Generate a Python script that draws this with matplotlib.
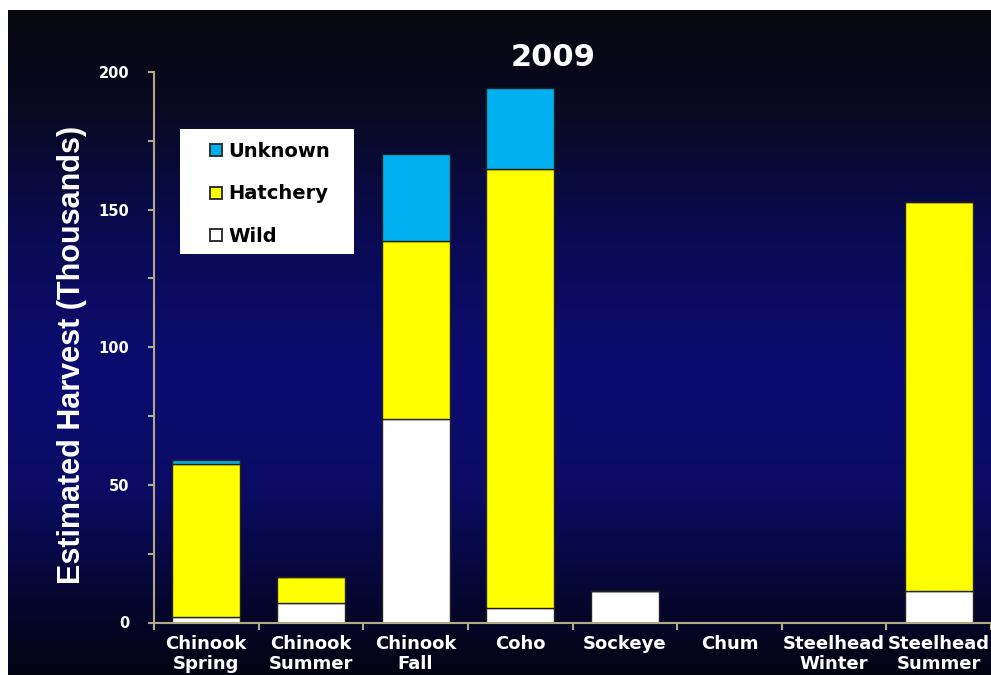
import numpy as np
import matplotlib
matplotlib.use("Agg")
import matplotlib.pyplot as plt
from matplotlib.lines import Line2D
from matplotlib.patches import Rectangle

categories = ["Chinook\nSpring", "Chinook\nSummer", "Chinook\nFall", "Coho",
              "Sockeye", "Chum", "Steelhead\nWinter", "Steelhead\nSummer"]
wild = [2.1, 7.0, 74.0, 5.3, 11.5, 0, 0, 11.6]
hatchery = [55.6, 9.7, 64.5, 159.6, 0, 0, 0, 141.1]
unknown = [1.2, 0, 31.8, 29.4, 0, 0, 0, 0]

col_wild = "#ffffff"
col_hatch = "#ffff00"
col_unk = "#00b0f0"
spine_col = "#b0aa88"

W, H = 991, 675
fig = plt.figure(figsize=(W / 100, H / 100), dpi=100)
fig.patch.set_facecolor("white")

# gradient background
bg = fig.add_axes([8 / W, 0, 1 - 8 / W, 1 - 10 / H])
stops = np.array([0.0, 0.15, 0.35, 0.55, 0.72, 0.88, 1.0])
reds = np.array([8, 9, 10, 12, 11, 6, 3])
greens = np.array([8, 9, 10, 12, 11, 6, 3])
blues = np.array([14, 35, 85, 115, 100, 50, 18])
yy = np.linspace(0, 1, 400)
grad = np.stack([np.interp(yy, stops, reds), np.interp(yy, stops, greens),
                 np.interp(yy, stops, blues)], axis=-1)[:, None, :] / 255.0
bg.imshow(grad, aspect="auto", extent=[0, 1, 1, 0])
bg.set_axis_off()

ax = fig.add_axes([154 / W, (H - 622.5) / H, (W - 154) / W, (622.5 - 72) / H])
ax.patch.set_alpha(0)
x = np.arange(len(categories))
bw = 0.65
ax.bar(x, wild, bw, color=col_wild, edgecolor="#222222", linewidth=1)
ax.bar(x, hatchery, bw, bottom=wild, color=col_hatch, edgecolor="#222222", linewidth=1)
bottom2 = np.array(wild) + np.array(hatchery)
ax.bar(x, unknown, bw, bottom=bottom2, color=col_unk, edgecolor="#222222", linewidth=1)

ax.set_xlim(-0.5, len(categories) - 0.5)
ax.set_ylim(0, 200)
for s in ["top", "right"]:
    ax.spines[s].set_visible(False)
for s in ["left", "bottom"]:
    ax.spines[s].set_color(spine_col)
    ax.spines[s].set_linewidth(1.5)

ax.set_yticks([0, 50, 100, 150, 200])
ax.set_yticks([25, 75, 125, 175], minor=True)
ax.set_xticks(np.arange(len(categories) + 1) - 0.5)
ax.set_xticklabels([])
ax.set_xticks(x, minor=True)
ax.set_xticklabels(categories, minor=True, fontsize=13, fontweight="bold",
                   color="white", linespacing=1.15)
ax.tick_params(axis="x", which="major", length=5, color=spine_col, width=1.5)
ax.tick_params(axis="x", which="minor", length=0, pad=9)
ax.tick_params(axis="y", which="both", length=4, color=spine_col, width=1.5,
               labelcolor="white", labelsize=10.5, pad=14)
for t in ax.get_yticklabels():
    t.set_fontweight("bold")

ax.set_ylabel("Estimated Harvest (Thousands)", fontsize=22, fontweight="bold",
              color="white", family="Liberation Sans", labelpad=8)
ax.yaxis.label.set_y(0.486)
fig.text(553 / W, 1 - 57 / H, "2009", fontsize=22, fontweight="bold",
         color="white", ha="center", va="center")

# legend box
fig.patches.append(Rectangle((180 / W, 1 - 254 / H), 174 / W, 125 / H,
                             transform=fig.transFigure, facecolor="white",
                             edgecolor="none", zorder=2))
handles = [Line2D([], [], marker="s", linestyle="none", markersize=8.5,
                  markerfacecolor=c, markeredgecolor="#333333", markeredgewidth=1.4)
           for c in [col_unk, col_hatch, col_wild]]
leg = fig.legend(handles, ["Unknown", "Hatchery", "Wild"],
                 loc="upper left", bbox_to_anchor=(209 / W, 1 - 142 / H),
                 frameon=False, prop={"weight": "bold", "size": 14},
                 labelspacing=1.2, handlelength=0.7, handletextpad=0.3,
                 borderpad=0, borderaxespad=0)
leg.set_zorder(3)

fig.savefig("out.png", dpi=100, facecolor=fig.get_facecolor())
